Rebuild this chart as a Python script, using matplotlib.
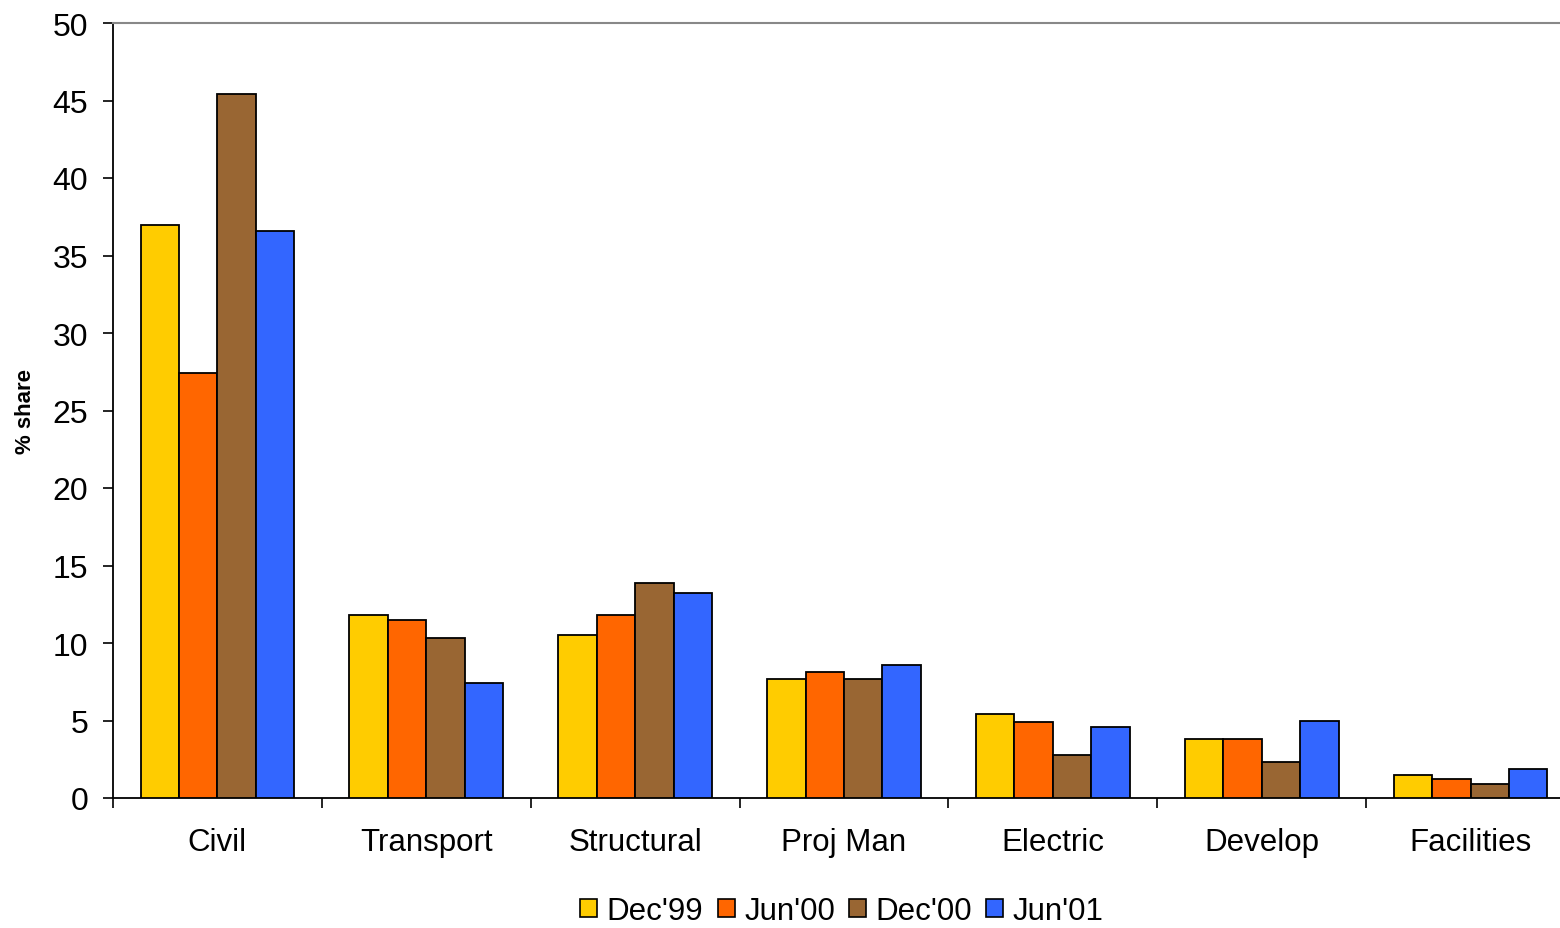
import matplotlib
matplotlib.use("Agg")
import matplotlib.pyplot as plt
import numpy as np

plt.rcParams['font.family'] = ['Liberation Sans', 'DejaVu Sans']

categories = ["Civil", "Transport", "Structural", "Proj Man", "Electric", "Develop", "Facilities"]
series_names = ["Dec'99", "Jun'00", "Dec'00", "Jun'01"]
dec99 = [37.0, 11.8, 10.5, 7.7, 5.4, 3.8, 1.5]
jun00 = [27.4, 11.5, 11.8, 8.1, 4.9, 3.8, 1.25]
dec00 = [45.4, 10.3, 13.9, 7.7, 2.8, 2.3, 0.9]
jun01 = [36.6, 7.4, 13.2, 8.6, 4.6, 5.0, 1.85]
series_values = [dec99, jun00, dec00, jun01]
colors = ["#FFCC00", "#FF6600", "#996633", "#3366FF"]
yticks = [0, 5, 10, 15, 20, 25, 30, 35, 40, 45, 50]

W, H = 1560, 929
fig = plt.figure(figsize=(W / 100, H / 100), dpi=100)
# plot area extends slightly past the right edge of the canvas
left, right, top, bottom = 113, 1575, 24, 799
ax = fig.add_axes([left / W, 1 - bottom / H, (right - left) / W, (bottom - top) / H])

x = np.arange(len(categories))
bw = 0.184
for i, (name, vals, c) in enumerate(zip(series_names, series_values, colors)):
    ax.bar(x + (i - 1.5) * bw, vals, width=bw, color=c, edgecolor="black",
           linewidth=1.3, label=name, zorder=3)

ax.set_xlim(-0.5, len(categories) - 0.5)
ax.set_ylim(0, 50)
ax.set_yticks(yticks)
ax.set_yticklabels([str(t) for t in yticks], fontsize=23)
ax.tick_params(axis="y", direction="out", length=7, width=1.2, pad=11)

ax.set_xticks(x)
ax.set_xticklabels(categories, fontsize=22.5)
ax.tick_params(axis="x", which="major", length=0, pad=21)
ax.set_xticks(np.arange(len(categories) + 1) - 0.5, minor=True)
ax.tick_params(axis="x", which="minor", direction="out", length=7, width=1.2)

ax.spines["left"].set_linewidth(1.3)
ax.spines["bottom"].set_linewidth(1.3)
ax.spines["top"].set_color("#888888")
ax.spines["top"].set_linewidth(1.5)
ax.spines["right"].set_visible(False)

ax.set_ylabel("% share", fontsize=16, fontweight="bold", labelpad=12)

leg = fig.legend(loc="center", bbox_to_anchor=(842 / W, 1 - 912 / H), ncol=4,
                 frameon=False, fontsize=22.5, handlelength=0.55, handleheight=0.55,
                 handletextpad=0.3, columnspacing=0.45)
for h in leg.legend_handles:
    h.set_linewidth(1.2)

fig.savefig("out.png", dpi=100)
